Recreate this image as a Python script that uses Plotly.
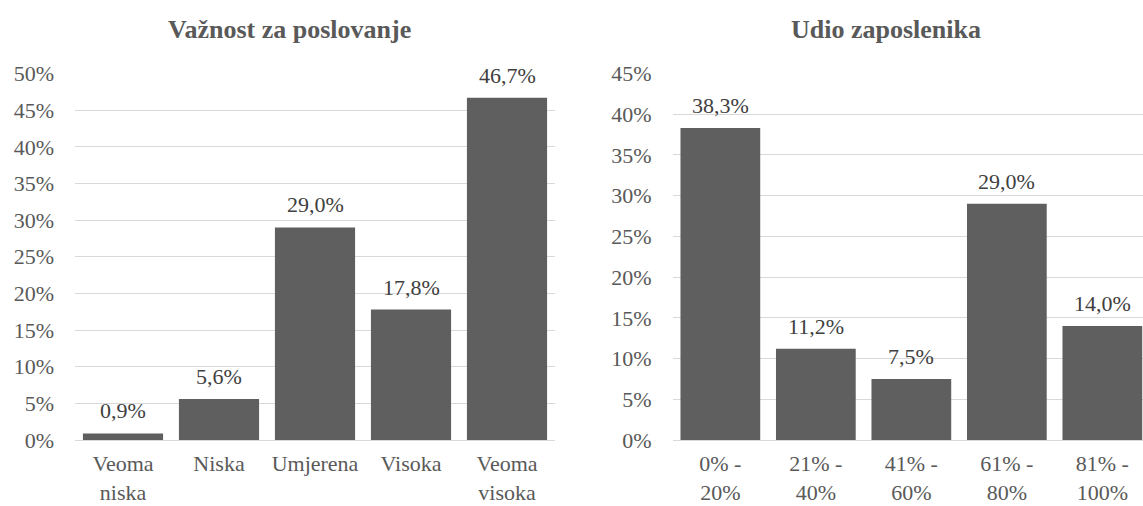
import plotly.graph_objects as go

# Survey results (percent of respondents)
importance_labels = ["Veoma<br>niska", "Niska", "Umjerena", "Visoka", "Veoma<br>visoka"]
importance_values = [0.9, 5.6, 29.0, 17.8, 46.7]

share_labels = ["0% -<br>20%", "21% -<br>40%", "41% -<br>60%", "61% -<br>80%", "81% -<br>100%"]
share_values = [38.3, 11.2, 7.5, 29.0, 14.0]

titles = ["Važnost za poslovanje", "Udio zaposlenika"]
y_max = [50, 45]

W, H = 1143, 506
FONT = "Liberation Serif"
BAR = "#5f5f5f"
GRID = "#d9d9d9"
AXIS_TXT = "#595959"
LABEL_TXT = "#404040"


def fmt(v):
    return f"{v:.1f}%".replace(".", ",")


fig = go.Figure()
fig.add_trace(go.Bar(x=list(range(len(importance_values))), y=importance_values,
                     marker=dict(color=BAR, line=dict(width=0)),
                     xaxis="x", yaxis="y", hoverinfo="skip"))
fig.add_trace(go.Bar(x=list(range(len(share_values))), y=share_values,
                     marker=dict(color=BAR, line=dict(width=0)),
                     xaxis="x2", yaxis="y2", hoverinfo="skip"))

# plot-area geometry in pixels
y_top, y_bot = 73.5, 440
ydom = [1 - y_bot / H, 1 - y_top / H]
left_x0, left_x1 = 75, 555
right_x0 = 672.6
cat_w_right = 95.5
right_visible = W - right_x0

common_y = dict(showgrid=True, gridcolor=GRID, gridwidth=1.3, zeroline=True,
                zerolinecolor=GRID, zerolinewidth=1.3, showline=False, ticks="",
                dtick=5, ticksuffix="%", automargin=False, ticklabelstandoff=20,
                tickfont=dict(family=FONT, size=22, color=AXIS_TXT), domain=ydom)
common_x = dict(showgrid=False, zeroline=False, showline=False, ticks="",
                automargin=False, ticklabelstandoff=8,
                tickfont=dict(family=FONT, size=22, color=AXIS_TXT))

fig.update_layout(
    width=W, height=H, margin=dict(l=0, r=0, t=0, b=0),
    paper_bgcolor="white", plot_bgcolor="white", showlegend=False,
    bargap=0.165,
    xaxis=dict(common_x, domain=[left_x0 / W, left_x1 / W], range=[-0.5, 4.5],
               tickvals=list(range(5)), ticktext=importance_labels),
    yaxis=dict(common_y, range=[0, y_max[0]]),
    xaxis2=dict(common_x, domain=[right_x0 / W, 1.0],
                range=[-0.5, -0.5 + right_visible / cat_w_right],
                tickvals=list(range(5)), ticktext=share_labels, anchor="y2"),
    yaxis2=dict(common_y, range=[0, y_max[1]], anchor="x2"),
)

annotations = []
for axis, vals in (("", importance_values), ("2", share_values)):
    for i, v in enumerate(vals):
        annotations.append(dict(x=i, y=v, xref="x" + axis, yref="y" + axis,
                                text=fmt(v), showarrow=False, yanchor="bottom",
                                yshift=8, font=dict(family=FONT, size=22, color=LABEL_TXT)))

for title, cx in zip(titles, [289, 886]):
    annotations.append(dict(x=cx / W, y=1 - 29 / H, xref="paper", yref="paper",
                            text=f"<b>{title}</b>", showarrow=False,
                            xanchor="center", yanchor="middle",
                            font=dict(family=FONT, size=26, color=AXIS_TXT)))

fig.update_layout(annotations=annotations)
fig.write_html("out.html")
